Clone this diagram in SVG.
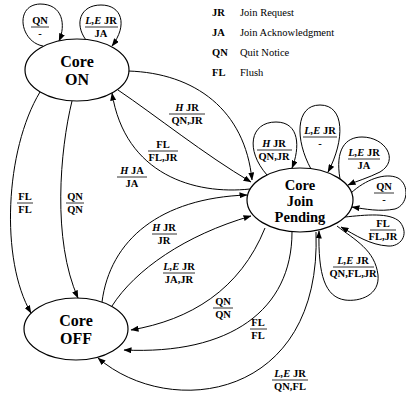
<svg xmlns="http://www.w3.org/2000/svg" width="406" height="400" viewBox="0 0 406 400">
<style>
.node ellipse{fill:#fff;stroke:#000;stroke-width:1.2}
.node text{font-family:"Liberation Serif","DejaVu Serif",serif;font-weight:bold;font-size:16px;text-anchor:middle;fill:#000}
.node text.sm{font-size:14.5px}
.edges path{fill:none;stroke:#000;stroke-width:1;marker-end:url(#ah)}
.lbl text{font-family:"Liberation Serif","DejaVu Serif",serif;font-weight:bold;font-size:10.5px;text-anchor:middle;fill:#000}
.lbl line{stroke:#000;stroke-width:0.8}
.it{font-style:italic}
.leg text{font-family:"Liberation Serif","DejaVu Serif",serif;font-size:10.5px;fill:#000}
.leg .ab{font-weight:bold}
</style>
<defs>
<marker id="ah" markerWidth="8" markerHeight="6" refX="7.5" refY="3" orient="auto" markerUnits="userSpaceOnUse"><path d="M0,0 L8,3 L0,6 z" fill="#000"/></marker>
</defs>
<rect width="406" height="400" fill="#fff"/>

<g id="legend" class="leg">
<text class="ab" x="212" y="16">JR</text><text x="240" y="16">Join Request</text>
<text class="ab" x="212" y="36">JA</text><text x="240" y="36">Join Acknowledgment</text>
<text class="ab" x="212" y="56">QN</text><text x="240" y="56">Quit Notice</text>
<text class="ab" x="212" y="76">FL</text><text x="240" y="76">Flush</text>
</g>

<g id="connectors" class="edges">
<path d="M43,46 C20,42 14,5 40,4 C63,4 66,25 59,41"/>
<path d="M86,40 C74,24 80,5 101,5 C122,5 128,25 112,46"/>
<path d="M128,71 C195,73 245,110 252,180"/>
<path d="M118,90 C155,115 205,155 251,182"/>
<path d="M250,189 C195,195 125,175 112,93"/>
<path d="M40,92 C5,150 0,260 31,313"/>
<path d="M72,101 C60,150 52,240 78,298"/>
<path d="M102,302 C110,240 160,198 247,195"/>
<path d="M112,306 C135,270 185,235 251,216"/>
<path d="M265,228 C240,290 190,320 131,330"/>
<path d="M292,232 C292,310 230,355 124,350"/>
<path d="M316,232 C322,400 170,420 98,358"/>
<path d="M267,175 C245,150 250,122 276,122 C300,122 300,148 292,168"/>
<path d="M311,169 C295,140 295,105 320,105 C345,105 345,140 328,172"/>
<path d="M340,179 C335,150 345,137 362,137 C385,137 400,160 380,172 C368,178 357,181 348,185"/>
<path d="M351,193 C365,180 385,172 398,178 C410,185 408,205 395,209 C380,212 365,209 352,207"/>
<path d="M345,217 C365,215 390,212 400,222 C410,235 400,247 388,246 C370,245 355,235 341,227"/>
<path d="M337,226 C355,240 375,250 378,275 C380,295 360,302 345,300 C325,297 318,275 319,231"/>
</g>

<g id="labels">
<g class="lbl"><text x="40" y="24">QN</text><line x1="31" y1="27" x2="49" y2="27"/><text x="40" y="37">-</text></g>
<g class="lbl"><text x="101" y="24"><tspan class="it">L,E</tspan> JR</text><line x1="85" y1="27" x2="118" y2="27"/><text x="101" y="37">JA</text></g>
<g class="lbl"><text x="187" y="111"><tspan class="it">H</tspan> JR</text><line x1="169" y1="114" x2="205" y2="114"/><text x="187" y="124">QN,JR</text></g>
<g class="lbl"><text x="163" y="148">FL</text><line x1="148" y1="151" x2="178" y2="151"/><text x="163" y="161">FL,JR</text></g>
<g class="lbl"><text x="132" y="174"><tspan class="it">H</tspan> JA</text><line x1="117" y1="177" x2="147" y2="177"/><text x="132" y="187">JA</text></g>
<g class="lbl"><text x="25" y="200">FL</text><line x1="17" y1="203" x2="33" y2="203"/><text x="25" y="213">FL</text></g>
<g class="lbl"><text x="75" y="200">QN</text><line x1="66" y1="203" x2="84" y2="203"/><text x="75" y="213">QN</text></g>
<g class="lbl"><text x="164" y="231"><tspan class="it">H</tspan> JR</text><line x1="152" y1="234" x2="177" y2="234"/><text x="164" y="244">JR</text></g>
<g class="lbl"><text x="179" y="270"><tspan class="it">L,E</tspan> JR</text><line x1="163" y1="273" x2="195" y2="273"/><text x="179" y="283">JA,JR</text></g>
<g class="lbl"><text x="223" y="305">QN</text><line x1="213" y1="308" x2="233" y2="308"/><text x="223" y="318">QN</text></g>
<g class="lbl"><text x="258" y="326">FL</text><line x1="250" y1="329" x2="267" y2="329"/><text x="258" y="339">FL</text></g>
<g class="lbl"><text x="290" y="377"><tspan class="it">L,E</tspan> JR</text><line x1="272" y1="380" x2="308" y2="380"/><text x="290" y="390">QN,FL</text></g>
<g class="lbl"><text x="274" y="147"><tspan class="it">H</tspan> JR</text><line x1="257" y1="150" x2="292" y2="150"/><text x="274" y="160">QN,JR</text></g>
<g class="lbl"><text x="320" y="134"><tspan class="it">L,E</tspan> JR</text><line x1="303" y1="137" x2="337" y2="137"/><text x="320" y="147">-</text></g>
<g class="lbl"><text x="364" y="156"><tspan class="it">L,E</tspan> JR</text><line x1="348" y1="159" x2="380" y2="159"/><text x="364" y="169">JA</text></g>
<g class="lbl"><text x="384" y="190">QN</text><line x1="374" y1="193" x2="394" y2="193"/><text x="384" y="203">-</text></g>
<g class="lbl"><text x="383" y="227">FL</text><line x1="370" y1="230" x2="396" y2="230"/><text x="383" y="240">FL,JR</text></g>
<g class="lbl"><text x="353" y="264"><tspan class="it">L,E</tspan> JR</text><line x1="333" y1="267" x2="374" y2="267"/><text x="353" y="277">QN,FL,JR</text></g>
</g>

<g id="core-on" class="node"><ellipse cx="77" cy="70" rx="52" ry="31"/><text x="77" y="67">Core</text><text x="77" y="85">ON</text></g>
<g id="core-off" class="node"><ellipse cx="76" cy="329" rx="52" ry="31"/><text x="76" y="326">Core</text><text x="76" y="344">OFF</text></g>
<g id="core-join-pending" class="node"><ellipse cx="300" cy="200" rx="53" ry="32"/><text class="sm" x="300" y="189.5">Core</text><text class="sm" x="300" y="205.7">Join</text><text class="sm" x="300" y="221.9">Pending</text></g>
</svg>
